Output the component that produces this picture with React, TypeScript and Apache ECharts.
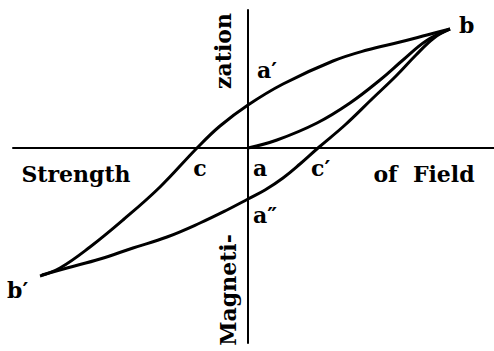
import React, { useEffect, useRef } from "react";
import * as echarts from "echarts";

// Field strength H (x) and magnetization B (y), in drawing units
const initialCurve: [number, number][] = [
  [0, 0], [29, 8], [69, 25], [102, 45], [132, 68], [155, 88], [178, 107], [202, 119],
];
const upperBranch: [number, number][] = [
  [-208, -128], [-188, -120], [-158, -99], [-125, -72], [-88, -39], [-51, 0], [-28, 22],
  [0, 43], [35, 64], [85, 87], [119, 98], [152, 106], [179, 113], [202, 119],
];
const lowerBranch: [number, number][] = [
  [202, 119], [186, 110], [168, 93], [148, 72], [124, 49], [97, 23], [70, 0], [52, -16],
  [35, -30], [17, -42], [0, -51], [-21, -62], [-48, -75], [-81, -89], [-115, -100],
  [-148, -111], [-181, -120], [-206, -127],
];
const xRange = [-235, 246];
const yRange = [-195, 138];

const FONT = "DejaVu Serif";

export default function App() {
  const ref = useRef<HTMLDivElement>(null);
  useEffect(() => {
    if (!ref.current) return;
    const chart = echarts.init(ref.current, undefined, { renderer: "svg" });
    const txt = (text: string, x: number, y: number, align: string = "center", extra: any = {}) => ({
      type: "text",
      x,
      y,
      z: 10,
      ...extra,
      style: {
        text,
        fill: "#000",
        font: `bold 22px "${FONT}"`,
        textAlign: align,
        textVerticalAlign: "middle",
      },
    });
    const axisCommon = {
      type: "value",
      axisLine: { show: true, onZero: true, lineStyle: { color: "#000", width: 2 } },
      axisTick: { show: false },
      axisLabel: { show: false },
      splitLine: { show: false },
    };
    const lineSeries = (data: [number, number][]) => ({
      type: "line",
      data,
      smooth: 0.4,
      showSymbol: false,
      symbol: "none",
      lineStyle: { color: "#000", width: 3 },
      z: 5,
    });
    chart.setOption({
      animation: false,
      backgroundColor: "#fff",
      grid: { left: 13, right: 0, top: 10, bottom: 8 },
      xAxis: { ...axisCommon, min: xRange[0], max: xRange[1] },
      yAxis: { ...axisCommon, min: yRange[0], max: yRange[1] },
      series: [lineSeries(initialCurve), lineSeries(upperBranch), lineSeries(lowerBranch)],
      graphic: [
        txt("Strength", 76, 174),
        txt("of\u00a0 Field", 424, 174),
        txt("c", 200, 168),
        txt("a", 260, 168),
        txt("c\u2032", 311, 168, "left"),
        txt("a\u2032", 257, 70, "left"),
        txt("a\u2033", 253, 215, "left"),
        txt("b", 459, 25, "left"),
        txt("b\u2032", 7, 290, "left"),
        txt("zation", 223, 51, "center", { rotation: Math.PI / 2 }),
        txt("Magneti-", 228, 290, "center", { rotation: Math.PI / 2 }),
      ],
    });
    return () => chart.dispose();
  }, []);
  return (
    <div
      ref={ref}
      style={{ position: "absolute", left: 0, top: 0, width: 494, height: 351, background: "#fff" }}
    />
  );
}
